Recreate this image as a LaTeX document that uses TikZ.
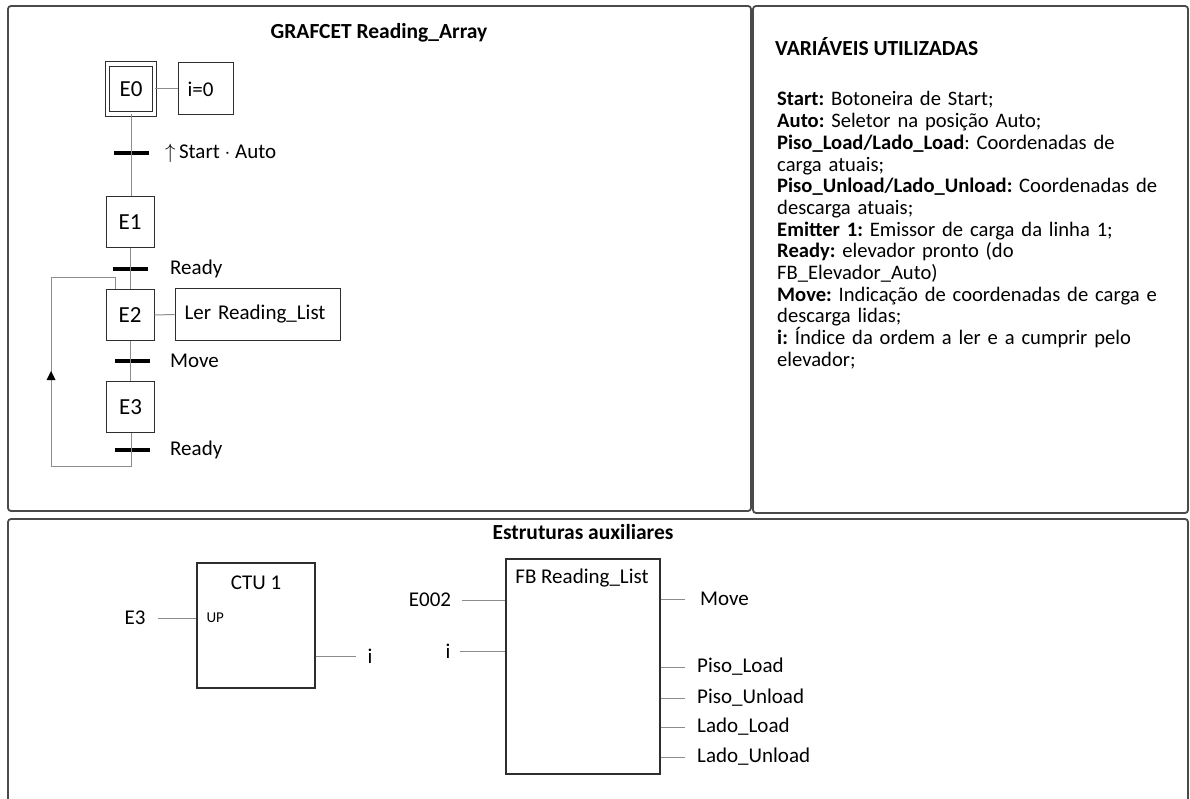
\documentclass[tikz,border=0pt]{standalone}
\usepackage{fontspec}
\setmainfont{Carlito}
\frenchspacing
\definecolor{panelline}{HTML}{4A4A4A}
\definecolor{boxline}{HTML}{2E2E2E}
\definecolor{wire}{HTML}{8C8C8C}
\tikzset{
  panel/.style={draw=panelline, line width=1.8pt, rounded corners=3pt},
  stepbox/.style={draw=boxline, line width=1pt, minimum width=48pt, minimum height=51pt, inner sep=0pt, font=\fontsize{23}{26}\selectfont},
  initstep/.style={stepbox, double, double distance=3.6pt, line width=0.8pt, minimum width=47pt, minimum height=50pt},
  actbox/.style={draw=boxline, line width=1pt, minimum height=51pt, inner ysep=0pt, inner xsep=9.5pt, align=left, font=\fontsize{21}{25}\selectfont},
  trbar/.style={fill=black, minimum width=35pt, minimum height=3.6pt, inner sep=0pt},
  wireline/.style={draw=wire, line width=1pt},
  lbl/.style={inner sep=0pt, font=\fontsize{21}{25}\selectfont},
  ttl/.style={inner sep=0pt, font=\bfseries\fontsize{21.5}{25}\selectfont},
  fbbox/.style={draw=boxline, line width=1.2pt, inner sep=0pt},
}
\begin{document}
\begin{tikzpicture}[x=1pt,y=-1pt]
\useasboundingbox (0,0) rectangle (1190,799);
\fill[white] (0,0) rectangle (1190,799);

% panels
\draw[panel] (8,6) rectangle (751,511);
\draw[panel] (753,6) rectangle (1188,513);
\draw[panel] (8,519) rectangle (1188,830);

% ---------- GRAFCET ----------
\node[ttl] (gtitle) at (379,33) {GRAFCET Reading\_Array};

\node[initstep] (E0) at (131,89) {E0};
\node[actbox, minimum height=52pt, text width=36pt] (A0) at (205.5,89) {i=0};
\draw[wireline] (E0.east) -- (A0.west);

\node[stepbox] (E1) at (130,222.5) {E1};
\node[stepbox] (E2) at (130,315) {E2};
\node[actbox, text width=146pt] (A2) at (257.5,314.5) {Ler Reading\_List};
\draw[wireline] (E2.east) -- (A2.west);
\node[stepbox] (E3) at (130.5,407) {E3};

\node[trbar] (T0) at (131,153) {};
\node[trbar] (T1) at (130.5,269) {};
\node[trbar] (T2) at (132,361) {};
\node[trbar] (T3) at (132,450) {};

\node[lbl, anchor=west] (L0) at (165,153) {$\uparrow$\,Start $\cdot$ Auto};
\node[lbl, anchor=west] (L1) at (170,269) {Ready};
\node[lbl, anchor=west] (L2) at (170,361) {Move};
\node[lbl, anchor=west] (L3) at (170,450) {Ready};

\draw[wireline] (E0.south) -- (E0.south |- E1.north);
\draw[wireline] (E1.south) -- (E1.south |- E2.north);
\draw[wireline] (E2.south) -- (E2.south |- E3.north);

% return loop from E3 back to E2
\coordinate (LB) at (131,466);
\coordinate (LL) at (51,466);
\coordinate (LT) at (51,278);
\coordinate (LR) at (115,278);
\draw[wireline] (E3.south -| LB) -- (LB) -- (LL) -- (LT) -- (LR) -- (LR |- E2.north);
% upward arrowhead on the loop
\coordinate (tip) at (51,371);
\fill[black] (tip) -- ++(-4.5,9) -- ++(9,0) -- cycle;

% ---------- variables ----------
\node[ttl, anchor=west] (vtitle) at (775,47) {VARIÁVEIS UTILIZADAS};
\node[lbl, anchor=base west, text width=386pt, align=left, font=\fontsize{20.6}{21.7}\selectfont] (vars) at (777,106) {%
\textbf{Start:} Botoneira de Start;\\
\textbf{Auto:} Seletor na posição Auto;\\
\textbf{Piso\_Load/Lado\_Load}: Coordenadas de\\
carga atuais;\\
\textbf{Piso\_Unload/Lado\_Unload:} Coordenadas de\\
descarga atuais;\\
\textbf{Emitter 1:} Emissor de carga da linha 1;\\
\textbf{Ready:} elevador pronto (do\\
FB\_Elevador\_Auto)\\
\makebox[386pt][s]{\textbf{Move:} Indicação de coordenadas de carga e}\\
descarga lidas;\\
\makebox[386pt][s]{\textbf{i:} Índice da ordem a ler e a cumprir pelo}\\
elevador;};

% ---------- auxiliary structures ----------
\node[ttl] (atitle) at (583,532) {Estruturas auxiliares};

\node[fbbox, minimum width=118pt, minimum height=125pt] (CTU) at (256,625.5) {};
\node[lbl] (ctulbl) at (256,583) {CTU 1};
\coordinate (ctuin) at (CTU.west |- 0,618);
\coordinate (ctuout) at (CTU.east |- 0,656);
\node[inner sep=0pt, anchor=west, font=\fontsize{15}{17}\selectfont] (up) at ([xshift=10pt]ctuin) {UP};
\node[lbl] (inE3) at (135,618) {E3};
\node[lbl] (outi) at (370,656) {i};
\draw[wireline] (158,618) coordinate (e3w) -- (ctuin);
\draw[wireline] (ctuout) -- (356,656) coordinate (iw);

\node[fbbox, minimum width=154pt, minimum height=215pt] (FB) at (583,666.5) {};
\node[lbl] (fblbl) at (582,578) {FB Reading\_List};
\node[lbl] (inE002) at (430,600) {E002};
\node[lbl] (ini) at (448,651) {i};
\draw[wireline] (462,600) -- (FB.west |- 0,600);
\draw[wireline] (460,651) -- (FB.west |- 0,651);

\foreach \yy in {599, 667, 698, 727, 757} {
  \draw[wireline] (FB.east |- 0,\yy) -- (685,\yy);
}
\node[lbl, anchor=west] (oMove) at (700,599) {Move};
\node[lbl, anchor=west] (oPL) at (697,667) {Piso\_Load};
\node[lbl, anchor=west] (oPU) at (697,698) {Piso\_Unload};
\node[lbl, anchor=west] (oLL) at (697,727) {Lado\_Load};
\node[lbl, anchor=west] (oLU) at (697,757) {Lado\_Unload};
\end{tikzpicture}
\end{document}
